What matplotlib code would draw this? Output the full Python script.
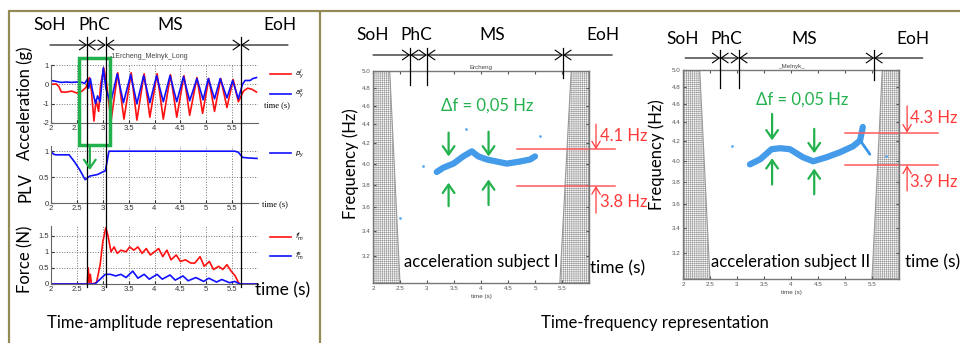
import matplotlib.pyplot as plt
from matplotlib.patches import Rectangle
from matplotlib.ticker import FixedLocator, FixedFormatter, NullLocator
from matplotlib.transforms import blended_transform_factory

plt.rcParams['font.family'] = ['Lato', 'DejaVu Sans']
plt.rcParams['hatch.linewidth'] = 0.4

W, H = 960, 343
GREEN = '#22B14C'
RED = '#FF3B3B'
OLIVE = '#948A54'

# ---------------- time-amplitude data ----------------
acc_l_t = [2.0, 2.1, 2.15, 2.2, 2.3, 2.4, 2.5, 2.6, 2.68, 2.74, 2.78, 2.83, 2.87, 2.92, 2.96,
           3.02, 3.07, 3.16, 3.29, 3.41, 3.55, 3.66, 3.8, 3.91, 4.05, 4.17, 4.31, 4.43, 4.57,
           4.68, 4.82, 4.93, 5.05, 5.16, 5.28, 5.4, 5.52, 5.62, 5.72, 5.8, 5.88, 5.97]
acc_l = [0.0, 0.02, -0.1, -0.4, -0.4, -0.35, -0.45, -0.35, -0.15, 0.35, -0.3, -1.9, -0.8, -1.4, 0.0,
         0.85, 0.1, -1.9, 0.6, -1.8, 0.6, -1.85, 0.55, -1.7, 0.55, -1.8, 0.5, -1.7, 0.45,
         -1.6, 0.35, -1.5, 0.3, -1.4, 0.3, -1.2, 0.25, -0.9, -0.35, -0.2, -0.25, -0.4]
acc_s_t = [2.0, 2.1, 2.2, 2.3, 2.4, 2.5, 2.6, 2.65, 2.7, 2.73, 2.76, 2.8, 2.86, 2.9, 2.95,
           3.01, 3.06, 3.15, 3.28, 3.4, 3.54, 3.66, 3.79, 3.91, 4.04, 4.17, 4.3, 4.43, 4.56,
           4.68, 4.82, 4.94, 5.04, 5.16, 5.27, 5.4, 5.51, 5.62, 5.7, 5.75, 5.85, 5.9, 5.97]
acc_s = [0.2, 0.15, 0.1, 0.12, 0.1, 0.12, 0.1, 0.05, 0.25, -0.2, 0.3, -0.3, -1.0, -0.6, -0.9,
         0.85, -0.2, -1.0, 0.55, -0.95, 0.5, -1.0, 0.45, -0.95, 0.45, -0.9, 0.45, -0.9, 0.4,
         -0.85, 0.3, -0.8, 0.3, -0.75, 0.3, -0.7, 0.2, -0.75, 0.0, 0.2, 0.2, 0.3, 0.35]

plv_t = [2.0, 2.05, 2.1, 2.35, 2.45, 2.55, 2.66, 2.75, 2.9, 3.0, 3.05, 3.12, 5.55, 5.62, 5.7, 5.8, 5.98]
plv = [1.0, 0.94, 0.93, 0.93, 0.8, 0.65, 0.45, 0.52, 0.55, 0.6, 0.62, 1.0, 1.0, 0.98, 0.88, 0.87, 0.86]

f_l_t = [2.0, 2.7, 2.72, 2.74, 2.76, 2.78, 2.8, 2.88, 2.95, 3.0, 3.06, 3.1, 3.16, 3.22, 3.28, 3.35,
         3.45, 3.52, 3.6, 3.68, 3.76, 3.84, 3.92, 4.0, 4.08, 4.16, 4.24, 4.32, 4.42, 4.5, 4.6,
         4.7, 4.78, 4.88, 4.96, 5.06, 5.14, 5.24, 5.32, 5.4, 5.48, 5.56, 5.62, 5.66, 6.0]
f_l = [0.0, 0.0, 0.5, 0.05, 0.3, 0.0, 0.0, 0.05, 0.6, 1.3, 1.75, 1.5, 1.0, 1.15, 0.95, 1.05,
       1.0, 1.15, 1.05, 1.15, 0.95, 1.1, 0.9, 1.0, 1.1, 0.85, 1.05, 0.75, 0.9, 0.7, 0.75,
       0.65, 0.65, 0.85, 0.55, 0.7, 0.45, 0.55, 0.45, 0.6, 0.4, 0.25, 0.05, 0.0, 0.0]
f_s_t = [2.0, 2.85, 2.95, 3.05, 3.15, 3.25, 3.35, 3.45, 3.58, 3.68, 3.8, 3.9, 4.05, 4.15, 4.3,
         4.4, 4.55, 4.65, 4.8, 4.95, 5.05, 5.2, 5.3, 5.45, 5.55, 5.65, 6.0]
f_s = [0.0, 0.0, 0.15, 0.3, 0.3, 0.25, 0.3, 0.2, 0.4, 0.18, 0.3, 0.15, 0.3, 0.15, 0.28,
       0.12, 0.25, 0.1, 0.2, 0.08, 0.18, 0.06, 0.14, 0.04, 0.08, 0.0, 0.0]

# ---------------- time-frequency ridges ----------------
ridge1_t = [3.18, 3.30, 3.49, 3.67, 3.83, 3.95, 4.11, 4.29, 4.48, 4.72, 4.91, 5.0]
ridge1_f = [3.92, 3.96, 4.00, 4.07, 4.12, 4.07, 4.04, 4.02, 4.00, 4.02, 4.04, 4.07]
speck1_t = [2.93, 3.72, 5.09, 2.5]
speck1_f = [3.98, 4.35, 4.28, 3.51]

ridge2_t = [3.24, 3.43, 3.64, 3.80, 3.98, 4.22, 4.41, 4.66, 4.91, 5.15, 5.28, 5.33]
ridge2_f = [3.97, 4.02, 4.12, 4.13, 4.12, 4.04, 4.00, 4.04, 4.09, 4.15, 4.21, 4.35]
tail2_t = [5.28, 5.46]
tail2_f = [4.21, 4.07]
speck2_t = [2.9, 5.76]
speck2_f = [4.15, 4.05]

x_ticks = [2, 2.5, 3, 3.5, 4, 4.5, 5, 5.5]
x_tick_labels = ['2', '2.5', '3', '3.5', '4', '4.5', '5', '5.5']
f_ticks = [3.2, 3.4, 3.6, 3.8, 4.0, 4.2, 4.4, 4.6, 4.8, 5.0]
f_tick_labels = ['3.2', '3.4', '3.6', '3.8', '4.0', '4.2', '4.4', '4.6', '4.8', '5.0']

phases = ['SoH', 'PhC', 'MS', 'EoH']
bounds_amp = [2.70, 3.06, 5.67]
bounds_tf1 = [2.69, 3.00, 5.52]
bounds_tf2 = [2.69, 3.04, 5.54]

fig = plt.figure(figsize=(9.6, 3.43), dpi=100)


def px_axes(l, t, r, b, **kw):
    return fig.add_axes([l / W, 1 - b / H, (r - l) / W, (b - t) / H], **kw)


ov = px_axes(0, 0, W, H, zorder=10)
ov.set_xlim(0, W)
ov.set_ylim(H, 0)
ov.axis('off')


def draw_phases(ax, bounds, ends, label_t, y_arrow, y_label, vlines):
    tr = blended_transform_factory(ax.transData, ov.transData)
    edges = [ends[0]] + bounds + [ends[1]]
    styles = ['->', '<->', '<->', '<-']
    for i, st in enumerate(styles):
        ov.annotate('', xy=(edges[i + 1], y_arrow), xytext=(edges[i], y_arrow),
                    xycoords=tr, textcoords=tr,
                    arrowprops=dict(arrowstyle=st + ',head_length=0.5,head_width=0.35',
                                    shrinkA=0, shrinkB=0, lw=0.8, color='k',
                                    mutation_scale=10))
    for name, t in zip(phases, label_t):
        ov.text(t, y_label, name, transform=tr, ha='center', va='center', fontsize=12.5)
    for b, (y0, y1) in zip(bounds, vlines):
        ov.plot([b, b], [y0, y1], transform=tr, color='k', lw=0.9)


def style_amp(ax, ylim, yticks):
    ax.set_xlim(2, 6)
    ax.set_ylim(*ylim)
    ax.set_xticks(x_ticks)
    ax.set_xticklabels(x_tick_labels)
    ax.set_yticks(yticks)
    ax.set_yticklabels([f'{v:g}' for v in yticks])
    ax.grid(True, ls=':', lw=0.7, color='#777')
    for s in ['top', 'right']:
        ax.spines[s].set_visible(False)
    for s in ['left', 'bottom']:
        ax.spines[s].set_color('#666')
        ax.spines[s].set_linewidth(0.8)
    ax.tick_params(labelsize=5.5, length=2, direction='in', pad=1.5, colors='#333',
                   labelfontfamily='Liberation Sans')


# ---------------- left panel: time-amplitude ----------------
ax_acc = px_axes(51, 65, 258, 123)
ax_acc.plot(acc_l_t, acc_l, color='#FF1010', lw=1.2, label='$a_y^l$')
ax_acc.plot(acc_s_t, acc_s, color='#1010FF', lw=1.2, label='$a_y^s$')
style_amp(ax_acc, (-2, 1), [-2, -1, 0, 1])
ax_acc.legend(loc='upper left', bbox_to_anchor=(1.06, 0.96), frameon=False, fontsize=5,
              handlelength=3.0, labelspacing=0.9, borderpad=0, borderaxespad=0,
              handletextpad=0.6)

ax_plv = px_axes(51, 146, 258, 203)
ax_plv.plot(plv_t, plv, color='#1010FF', lw=1.2, label='$p_y$')
style_amp(ax_plv, (0, 1.1), [0, 0.5, 1])
ax_plv.legend(loc='upper left', bbox_to_anchor=(1.06, 0.94), frameon=False, fontsize=5,
              handlelength=3.0, borderpad=0, borderaxespad=0, handletextpad=0.6)

ax_f = px_axes(51, 226, 258, 284)
ax_f.plot(f_l_t, f_l, color='#FF1010', lw=1.2, label='$f_m^l$')
ax_f.plot(f_s_t, f_s, color='#1010FF', lw=1.2, label='$f_m^s$')
style_amp(ax_f, (0, 1.8), [0, 0.5, 1, 1.5])
ax_f.legend(loc='upper left', bbox_to_anchor=(1.06, 0.92), frameon=False, fontsize=5,
            handlelength=3.0, labelspacing=1.0, borderpad=0, borderaxespad=0,
            handletextpad=0.6)

draw_phases(ax_acc, bounds_amp, (1.98, 6.58), [1.98, 2.83, 4.3, 6.43], 45, 25,
            [(37, 287)] * 3)

tr_acc = blended_transform_factory(ax_acc.transData, ov.transData)
ov.add_patch(Rectangle((2.54, 58), 0.6, 87, transform=tr_acc, fill=False,
                       edgecolor=GREEN, lw=2.5))
ov.annotate('', xy=(2.75, 170), xytext=(2.75, 145), xycoords=tr_acc, textcoords=tr_acc,
            arrowprops=dict(arrowstyle='->,head_length=0.5,head_width=0.35', color=GREEN,
                            lw=1.6, shrinkA=0, shrinkB=0, mutation_scale=12))

ov.text(110, 57, '-1Ercheng_Melnyk_Long', fontsize=5, color='#444', va='center',
        family='Liberation Sans')
ov.text(264, 105, 'time (s)', fontsize=6, va='center', family='Liberation Serif')
ov.text(262, 204, 'time (s)', fontsize=6, va='center', family='Liberation Serif')
ov.text(255, 290, 'time (s)', fontsize=12.5, va='center')
ov.text(25, 103, 'Acceleration (g)', rotation=90, ha='center', va='center', fontsize=12)
ov.text(25, 187, 'PLV', rotation=90, ha='center', va='center', fontsize=12)
ov.text(25, 259, 'Force (N)', rotation=90, ha='center', va='center', fontsize=12)
ov.text(160, 323, 'Time-amplitude representation', ha='center', va='center', fontsize=12)


# ---------------- time-frequency panels ----------------
def style_tf(ax, title):
    ax.set_xlim(2, 6)
    ax.set_yscale('log')
    ax.set_ylim(3.0, 5.0)
    ax.yaxis.set_major_locator(FixedLocator(f_ticks))
    ax.yaxis.set_major_formatter(FixedFormatter(f_tick_labels))
    ax.yaxis.set_minor_locator(NullLocator())
    ax.set_xticks(x_ticks)
    ax.set_xticklabels(x_tick_labels)
    ax.tick_params(which='both', direction='in', top=True, right=True, length=2,
                   labelsize=4.5, colors='#555', pad=2, labelfontfamily='Liberation Sans')
    for s in ax.spines.values():
        s.set_color('#777')
        s.set_linewidth(1.0)
    ax.set_title(title, fontsize=4.5, pad=1.5, color='#444', family='Liberation Sans')
    ax.set_xlabel('time (s)', fontsize=4.5, labelpad=2, color='#444',
                  family='Liberation Sans')


def draw_tf(ax, hatch_l, hatch_r, rt, rf, st, sf, arrows, red_lines, red_x, red_arrows,
            red_texts, df_pos):
    ax.fill([2, hatch_l[0], hatch_l[1], 2], [5.0, 5.0, 3.0, 3.0], facecolor='white',
            edgecolor='#9a9a9a', hatch='++++++++', lw=0.8)
    ax.fill([6, hatch_r[0], hatch_r[1], 6], [5.0, 5.0, 3.0, 3.0], facecolor='white',
            edgecolor='#9a9a9a', hatch='++++++++', lw=0.8)
    ax.plot(rt, rf, color='#3A96E8', lw=4.5, solid_capstyle='round',
            solid_joinstyle='round', alpha=0.95)
    ax.plot(st, sf, 'o', ms=2, color='#5AAAF0', mec='none')
    for t, d0, d1, u0, u1 in arrows:
        for y0, y1 in [(d0, d1), (u0, u1)]:
            ax.annotate('', xy=(t, y1), xytext=(t, y0),
                        arrowprops=dict(arrowstyle='->,head_length=0.5,head_width=0.35',
                                        color=GREEN, lw=1.6, shrinkA=0, shrinkB=0,
                                        mutation_scale=12))
    for f in red_lines:
        ax.plot(red_x, [f, f], color='#FF5A5A', lw=1.1, clip_on=False)
    for t, y0, y1 in red_arrows:
        ax.annotate('', xy=(t, y1), xytext=(t, y0), annotation_clip=False,
                    arrowprops=dict(arrowstyle='->,head_length=0.5,head_width=0.3',
                                    color=RED, lw=0.9, shrinkA=0, shrinkB=0,
                                    mutation_scale=10))
    for t, f, txt in red_texts:
        ax.text(t, f, txt, color=RED, fontsize=12, ha='left', va='center', clip_on=False)
    ax.text(df_pos[0], df_pos[1], '\u0394f = 0,05 Hz', color=GREEN, fontsize=12,
            ha='center', va='center')


ax_tf1 = px_axes(373, 71, 589, 283)
style_tf(ax_tf1, 'Ercheng')
draw_tf(ax_tf1, (2.31, 2.5), (5.67, 5.46), ridge1_t, ridge1_f, speck1_t, speck1_f,
        [(3.4, 4.31, 4.07, 3.61, 3.82), (4.14, 4.32, 4.07, 3.62, 3.85)],
        [4.14, 3.79], [4.67, 6.48],
        [(6.13, 4.40, 4.14), (6.13, 3.55, 3.79)],
        [(6.2, 4.28, '4.1 Hz'), (6.2, 3.65, '3.8 Hz')], (4.11, 4.6))
draw_phases(ax_tf1, bounds_tf1, (2.0, 6.43), [2.0, 2.81, 4.2, 6.26], 55, 35,
            [(48, 85), (48, 85), (48, 78)])

ax_tf2 = px_axes(683, 70, 899, 279)
style_tf(ax_tf2, '_Melnyk_')
draw_tf(ax_tf2, (2.31, 2.5), (5.69, 5.5), ridge2_t, ridge2_f, speck2_t, speck2_f,
        [(3.65, 4.49, 4.21, 3.78, 4.03), (4.43, 4.33, 4.08, 3.69, 3.93)],
        [4.29, 3.96], [5.0, 6.72],
        [(6.15, 4.58, 4.29), (6.15, 3.72, 3.96)],
        [(6.2, 4.45, '4.3 Hz'), (6.2, 3.80, '3.9 Hz')], (4.2, 4.65))
ax_tf2.plot(tail2_t, tail2_f, color='#3A96E8', lw=2, solid_capstyle='round')
draw_phases(ax_tf2, bounds_tf2, (2.04, 6.44), [2.0, 2.81, 4.24, 6.26], 58, 39,
            [(50, 88), (50, 88), (50, 80)])

box = dict(facecolor='white', edgecolor='none', pad=0.5)
ov.text(481, 262, 'acceleration subject I', ha='center', va='center', fontsize=12, bbox=box)
ov.text(791, 262, 'acceleration subject II', ha='center', va='center', fontsize=12, bbox=box)
ov.text(590, 268, 'time (s)', va='center', fontsize=12.5)
ov.text(905, 262, 'time (s)', va='center', fontsize=12.5)
ov.text(351, 164, 'Frequency (Hz)', rotation=90, ha='center', va='center', fontsize=12)
ov.text(657, 155, 'Frequency (Hz)', rotation=90, ha='center', va='center', fontsize=12)
ov.text(655, 323, 'Time-frequency representation', ha='center', va='center', fontsize=12)

# frame
ov.plot([8, W], [10.5, 10.5], color=OLIVE, lw=1.6, solid_capstyle='butt')
ov.plot([9, 9], [10, H], color=OLIVE, lw=1.6, solid_capstyle='butt')
ov.plot([320, 320], [10, H], color=OLIVE, lw=1.6, solid_capstyle='butt')
ov.set_xlim(0, W)
ov.set_ylim(H, 0)

fig.savefig('out.png', dpi=100)
